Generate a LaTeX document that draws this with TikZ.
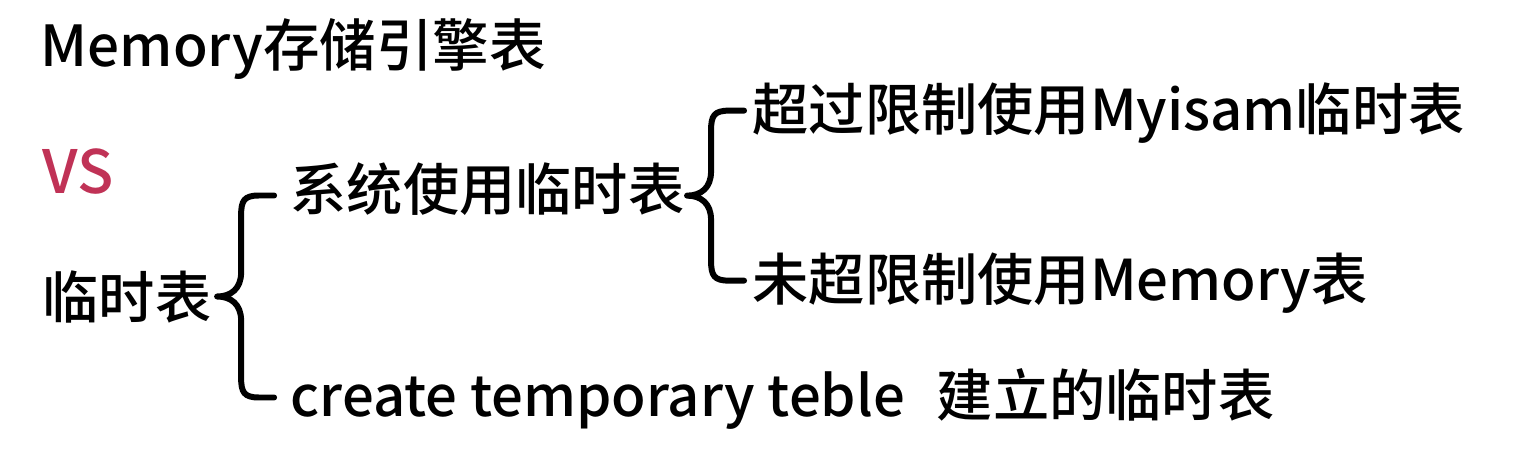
\documentclass[tikz,border=0pt]{standalone}
\usepackage{fontspec}
\setmainfont{Noto Sans CJK SC}[UprightFont={* Medium}]
\usetikzlibrary{calc}
\definecolor{vsred}{RGB}{192,50,86}

\begin{document}
\begin{tikzpicture}[every node/.style={anchor=base west, inner sep=0pt, font=\fontsize{16}{19}\selectfont},
        bracket/.style={line width=1.7pt, line cap=round, line join=round},
        pics/curly/.style={code={
            \draw[bracket] (0.57,#1) -- (0.42,#1) .. controls (0.27,#1) and (0.24,#1-0.05) .. (0.24,#1-0.20)
                -- (0.24,0.24) .. controls (0.24,0.08) and (0.14,0) .. (0,0)
                .. controls (0.14,0) and (0.24,-0.08) .. (0.24,-0.24)
                -- (0.24,-#1+0.20) .. controls (0.24,-#1+0.05) and (0.27,-#1) .. (0.42,-#1) -- (0.57,-#1);
        }}]
        \useasboundingbox (0,0) rectangle (15.28,-4.5);

        \node (title) at (0.40,-0.66) {\fontsize{16.1}{19}\selectfont Memory存储引擎表};
        \node[text=vsred] (vs) at (0.42,-1.93) {\fontsize{17}{20}\selectfont VS};
        \node (root) at (0.42,-3.18) {临时表};
        \node (sys) at (2.90,-2.10) {系统使用临时表};
        \node (create) at (2.90,-4.16) {create temporary teble\hspace{0.32cm}建立的临时表};
        \node (over) at (7.52,-1.30) {超过限制使用Myisam临时表};
        \node (under) at (7.52,-3.00) {未超限制使用Memory表};

        % braces
        \coordinate (ltip) at ($(root.east)+(0.05,0)$);
        \coordinate (rtip) at ($(sys.east)+(0.02,-0.07)$);
        \pic at (ltip) {curly=1.01};
        \pic at (rtip) {curly=0.85};

\end{tikzpicture}
\end{document}
